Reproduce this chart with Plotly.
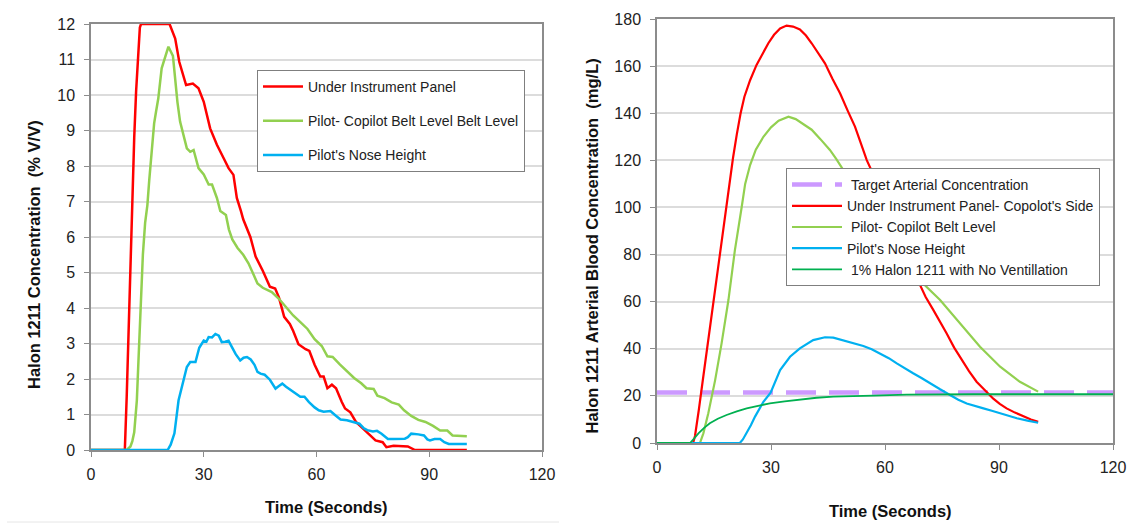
import plotly.graph_objects as go

# ---------------- Left chart data (time s, % V/V) ----------------
left_red = [(0, 0), (9.0, 0), (9.5, 1.5), (10, 3.3), (10.5, 5.5), (11, 7.3), (11.5, 8.8), (12, 10.1),
            (12.5, 11.2), (13, 11.9), (13.3, 12), (20.9, 12), (22.4, 11.59), (23.5, 10.93), (25.3, 10.28),
            (26.2, 10.3), (27.1, 10.32), (28.6, 10.19), (30.0, 9.81), (31.7, 9.06), (33.5, 8.6), (35.3, 8.22),
            (36.6, 7.94), (37.9, 7.75), (38.8, 7.1), (39.9, 6.73), (40.5, 6.5), (42.4, 6.0), (43.8, 5.45),
            (45.7, 5.05), (47.6, 4.6), (49.0, 4.55), (50.0, 4.3), (51.4, 3.75), (52.9, 3.55), (53.8, 3.35),
            (55.2, 2.98), (57.1, 2.84), (58.1, 2.79), (59.5, 2.4), (61.0, 2.07), (61.9, 2.07), (62.9, 1.74),
            (64.1, 1.84), (65.2, 1.74), (66.7, 1.36), (67.6, 1.17), (69.0, 1.06), (70.5, 0.79), (71.9, 0.65),
            (73.8, 0.46), (75.7, 0.27), (77.6, 0.22), (78.6, 0.08), (80.5, 0.12), (82.4, 0.1), (84.3, 0.1),
            (86.2, 0), (100, 0)]

left_green = [(0, 0), (9.5, 0), (10.5, 0.1), (11, 0.25), (11.5, 0.5), (12.2, 1.4), (12.7, 2.7), (13.25, 4.2),
              (13.8, 5.5), (14.4, 6.4), (15.0, 6.9), (15.5, 7.6), (16.2, 8.41), (16.8, 9.2), (17.3, 9.53),
              (17.9, 9.9), (18.8, 10.75), (20.0, 11.2), (20.6, 11.36), (21.8, 11.1), (22.3, 10.47), (23.0, 9.8),
              (23.7, 9.25), (25.5, 8.5), (26.4, 8.4), (27.3, 8.45), (28.6, 7.94), (30.0, 7.76), (31.3, 7.48),
              (32.2, 7.48), (33.5, 7.1), (34.4, 6.73), (35.9, 6.62), (36.7, 6.21), (37.6, 5.93), (39.0, 5.69),
              (40.5, 5.5), (41.9, 5.26), (43.3, 4.93), (44.3, 4.69), (45.7, 4.57), (48.1, 4.45), (50.0, 4.26),
              (51.9, 4.02), (53.8, 3.79), (55.7, 3.6), (57.6, 3.41), (59.5, 3.12), (61.4, 2.93), (62.9, 2.64),
              (64.3, 2.62), (66.2, 2.41), (68.1, 2.22), (70.0, 2.03), (71.9, 1.88), (73.3, 1.74), (75.2, 1.72),
              (76.2, 1.53), (78.1, 1.46), (80.0, 1.34), (81.9, 1.28), (83.3, 1.12), (85.2, 0.96), (87.1, 0.85),
              (89.0, 0.79), (91.0, 0.68), (92.9, 0.55), (94.8, 0.55), (96.2, 0.41), (98.1, 0.4), (100, 0.39)]

left_blue = [(0, 0), (20.4, 0), (21.2, 0.15), (22.2, 0.47), (23.3, 1.4), (24.3, 1.84), (25.5, 2.34), (26.4, 2.48),
             (27.8, 2.48), (28.8, 2.88), (30.0, 3.08), (30.7, 3.05), (31.3, 3.18), (32.2, 3.17), (33.1, 3.27),
             (34.0, 3.22), (34.8, 3.04), (35.7, 3.05), (36.6, 3.08), (37.5, 2.9), (38.5, 2.7), (39.7, 2.52),
             (40.6, 2.6), (41.5, 2.62), (42.5, 2.55), (43.5, 2.4), (44.3, 2.2), (45.1, 2.15), (46.2, 2.12),
             (47.6, 1.98), (49.1, 1.73), (50.0, 1.8), (50.9, 1.87), (51.9, 1.78), (52.6, 1.73), (53.8, 1.65),
             (55.0, 1.55), (55.7, 1.5), (56.8, 1.5), (58.0, 1.35), (59.5, 1.2), (60.6, 1.12), (61.9, 1.08),
             (63.7, 1.1), (65.0, 0.98), (66.4, 0.86), (68.1, 0.84), (70.0, 0.77), (71.4, 0.74), (72.5, 0.62),
             (73.5, 0.56), (75.0, 0.52), (76.1, 0.54), (77.3, 0.46), (78.1, 0.39), (79.0, 0.31), (80.5, 0.31),
             (82.4, 0.31), (83.5, 0.32), (84.3, 0.36), (85.2, 0.46), (87.1, 0.44), (88.6, 0.41), (89.5, 0.3),
             (90.2, 0.27), (91.4, 0.31), (92.9, 0.31), (94.0, 0.22), (95.2, 0.17), (97.6, 0.17), (100, 0.17)]

# ---------------- Right chart data (time s, mg/L) ----------------
right_target = [(0, 21.4), (120, 21.4)]

right_red = [(0, 0), (9.5, 0), (10, 3), (10.5, 8), (11, 14), (12, 26), (13, 38), (14, 50), (15, 62), (16, 74),
             (17, 86), (18, 98), (19, 110), (20, 121), (21, 131), (22, 140), (23, 147), (24.5, 154),
             (26.2, 160.5), (27.8, 165.5), (29.3, 169.7), (30.8, 173.3), (32.4, 176), (34.1, 177.2),
             (35.8, 176.8), (37.6, 175.6), (39.2, 173), (40.7, 169.7), (42.5, 165.5), (44.2, 161.2),
             (46.2, 154.5), (48.2, 148.4), (50.2, 141), (52.1, 134.3), (53.7, 127), (55.2, 120.1), (57.5, 112),
             (60, 103), (62.5, 94), (65, 84), (66.8, 76), (68.8, 68.5), (70.7, 62), (72.7, 56.5), (74.5, 51.5),
             (76.2, 46.6), (78.2, 40.5), (80.2, 35.2), (82.1, 30.5), (84.1, 26), (86.3, 22.5), (88.5, 18.8),
             (90.2, 16.6), (92, 14.7), (94.2, 12.9), (96.4, 11.2), (98.4, 10), (100.3, 9)]

right_green = [(0, 0), (11.3, 0), (12.2, 4.1), (13.5, 12.6), (15.3, 26.7), (17, 42.3), (18.8, 60.7), (20.5, 81.9),
               (22.3, 100.3), (23.2, 110), (24.5, 118), (26, 124.5), (28, 130), (30, 134), (32, 136.8),
               (34.6, 138.5), (36.5, 137.5), (38.5, 135.5), (40.7, 133), (43, 129), (45.5, 124.4), (47.2, 120.5),
               (49, 116), (52, 110), (56, 100), (60, 91), (64, 81), (67.5, 73), (70.5, 67), (74.5, 60.7),
               (79.7, 50.8), (85, 40.9), (90.3, 32.4), (95.5, 26), (100.3, 21.8)]

right_blue = [(0, 0), (21.8, 0), (22.6, 1.5), (23.6, 4.1), (24.7, 7.5), (25.8, 11.2), (27, 15), (28, 17.5),
              (29.9, 21.4), (31.2, 26.5), (32.4, 31), (35, 36.6), (37.6, 40.2), (41.1, 43.7), (44.2, 44.9),
              (46.4, 44.7), (48, 44), (49.9, 43), (52, 42.3), (54.3, 41.2), (56.5, 39.8), (58.7, 38.1), (61, 36),
              (63.1, 33.8), (65.2, 31.6), (67.4, 29.6), (69.6, 27.6), (71.8, 25.6), (74.5, 22.8), (77.1, 20.4),
              (79.3, 18.4), (81.5, 16.8), (83.7, 15.6), (85.9, 14.7), (88.1, 13.7), (90.3, 12.6), (92.5, 11.5),
              (94.7, 10.5), (97.5, 9.5), (100.3, 8.6)]

right_noventilation = [(0, 0), (8.7, 0), (9.8, 2), (10.9, 4.1), (12.4, 6.4), (13.9, 8.4), (16, 10.3), (18.3, 11.9),
                       (21, 13.4), (23.6, 14.7), (26.6, 15.8), (29.7, 16.8), (33.6, 17.7), (37.6, 18.5), (42, 19.2),
                       (46.4, 19.7), (51.5, 20), (56.9, 20.1), (65.7, 20.5), (83.2, 20.7), (120, 20.7)]

x_ticks = [0, 30, 60, 90, 120]
left_y_ticks = list(range(0, 13))
right_y_ticks = list(range(0, 181, 20))

FONT = "Arial, Liberation Sans, sans-serif"
RED, LGREEN, BLUE, PURPLE, DGREEN = "#FF0000", "#92D050", "#00B0F0", "#CC99FF", "#00B050"


def xs(pairs):
    return [p[0] for p in pairs]


def ys(pairs):
    return [p[1] for p in pairs]


fig = go.Figure()

left_series = [
    ("Under Instrument Panel", left_red, RED),
    ("Pilot- Copilot Belt Level Belt Level", left_green, LGREEN),
    ("Pilot's Nose Height", left_blue, BLUE),
]
for i, (name, data, col) in enumerate(left_series):
    fig.add_trace(go.Scatter(x=xs(data), y=ys(data), mode="lines", name=name,
                             line=dict(color=col, width=2.5), xaxis="x", yaxis="y",
                             legend="legend", legendgroup="L%d" % i))

right_series = [
    ("\u00a0Target Arterial Concentration", right_target, PURPLE, 4.5, "30px,13px"),
    ("Under Instrument Panel- Copolot's Side", right_red, RED, 2.2, "solid"),
    ("\u00a0Pilot- Copilot Belt Level", right_green, LGREEN, 2.2, "solid"),
    ("Pilot's Nose Height", right_blue, BLUE, 2.2, "solid"),
    ("\u00a01% Halon 1211 with No Ventillation", right_noventilation, DGREEN, 1.8, "solid"),
]
for i, (name, data, col, w, dash) in enumerate(right_series):
    fig.add_trace(go.Scatter(x=xs(data), y=ys(data), mode="lines", name=name,
                             line=dict(color=col, width=w, dash=dash), xaxis="x2", yaxis="y2",
                             legend="legend2", legendgroup="R%d" % i))

W, H = 1135, 529


def px_x(p):
    return p / W


def px_y(p):
    return 1 - p / H


axis_common = dict(showline=True, linecolor="#8C8C8C", linewidth=1.5, mirror=True,
                   ticks="outside", ticklen=5, tickcolor="#8C8C8C", tickwidth=1.2,
                   tickfont=dict(family=FONT, size=16, color="#222222"), zeroline=False)

fig.update_layout(
    width=W, height=H, margin=dict(l=0, r=0, t=0, b=0, autoexpand=False),
    paper_bgcolor="white", plot_bgcolor="white",
    font=dict(family=FONT, color="#222222"),
    xaxis=dict(domain=[px_x(91), px_x(542)], range=[0, 120], tickvals=x_ticks, showgrid=False,
               anchor="y", ticklabelstandoff=4, **axis_common),
    yaxis=dict(domain=[px_y(450), px_y(24)], range=[0, 12], tickvals=left_y_ticks, showgrid=True,
               gridcolor="#DCDCDC", gridwidth=1.5, anchor="x", ticklabelstandoff=6, **axis_common),
    xaxis2=dict(domain=[px_x(657), px_x(1113)], range=[0, 120], tickvals=x_ticks, showgrid=False,
                anchor="y2", ticklabelstandoff=4, **axis_common),
    yaxis2=dict(domain=[px_y(443), px_y(19)], range=[0, 180], tickvals=right_y_ticks, showgrid=True,
                gridcolor="#DCDCDC", gridwidth=1.5, anchor="x2", ticklabelstandoff=6, **axis_common),
    legend=dict(x=px_x(257), y=px_y(70), xanchor="left", yanchor="top", bgcolor="white",
                bordercolor="#7F7F7F", borderwidth=1, font=dict(family=FONT, size=14, color="#222222"),
                traceorder="grouped", tracegroupgap=13, itemwidth=40),
    legend2=dict(x=px_x(786), y=px_y(168), xanchor="left", yanchor="top", bgcolor="white",
                 bordercolor="#7F7F7F", borderwidth=1, font=dict(family=FONT, size=14, color="#222222"),
                 traceorder="grouped", tracegroupgap=0, itemwidth=50),
    showlegend=True,
)

title_font = dict(family=FONT, size=16.5, color="#111111")
annotations = [
    dict(text="<b>Halon 1211 Concentration\u00a0 (% V/V)</b>", x=px_x(34), y=px_y(255), textangle=-90),
    dict(text="<b>Time (Seconds)</b>", x=px_x(327), y=px_y(507), textangle=0),
    dict(text="<b>Halon 1211 Arterial Blood Concentration\u00a0 (mg/L)</b>", x=px_x(591), y=px_y(246.5),
         textangle=-90),
    dict(text="<b>Time (Seconds)</b>", x=px_x(890), y=px_y(511), textangle=0),
]
for a in annotations:
    fig.add_annotation(xref="paper", yref="paper", xanchor="center", yanchor="middle",
                       showarrow=False, font=title_font, **a)

fig.add_shape(type="line", xref="paper", yref="paper", x0=px_x(7), x1=px_x(559), y0=px_y(522), y1=px_y(522),
              line=dict(color="#E6E6E6", width=1))

fig.write_html("out.html", config={"displayModeBar": False},
               post_script="document.body.style.margin='0px';document.body.style.overflow='hidden';")
